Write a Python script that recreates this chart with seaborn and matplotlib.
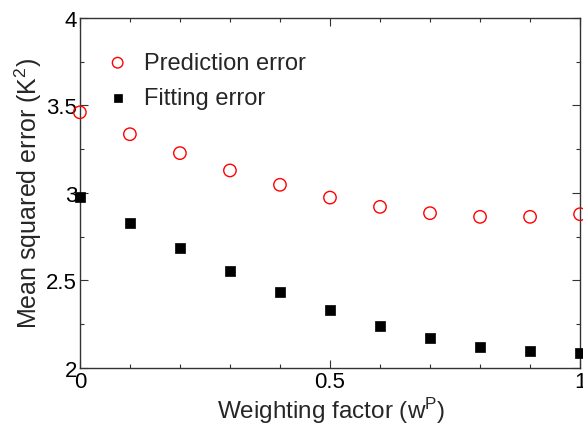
import pandas as pd
import matplotlib
matplotlib.use("Agg")
import matplotlib.pyplot as plt
from matplotlib.ticker import MultipleLocator, FuncFormatter
import seaborn as sns

# Weighting factor values and the two error series
weights = [0.0, 0.1, 0.2, 0.3, 0.4, 0.5, 0.6, 0.7, 0.8, 0.9, 1.0]
prediction_error = [3.46, 3.335, 3.227, 3.128, 3.046, 2.973, 2.92, 2.884, 2.863, 2.863, 2.878]
fitting_error = [2.975, 2.825, 2.684, 2.554, 2.432, 2.33, 2.242, 2.173, 2.12, 2.095, 2.087]

sns.set_theme(style="ticks")
plt.rcParams["font.family"] = ["Liberation Sans", "DejaVu Sans"]
plt.rcParams["mathtext.fontset"] = "custom"
plt.rcParams["mathtext.rm"] = "Liberation Sans"
plt.rcParams["mathtext.it"] = "Liberation Sans"

fig = plt.figure(figsize=(5.83, 4.27), dpi=100)
ax = fig.add_axes([0.137, 0.136, 0.858, 0.82])

pred = pd.DataFrame({"w": weights, "err": prediction_error})
fit = pd.DataFrame({"w": weights, "err": fitting_error})

sns.scatterplot(data=pred, x="w", y="err", ax=ax, marker="o", s=80,
                facecolors="none", edgecolor="#ff0000", linewidth=1.0,
                label="Prediction error", clip_on=False, zorder=3)
sns.scatterplot(data=fit, x="w", y="err", ax=ax, marker="s", s=55,
                color="black", edgecolor="black", linewidth=0.5,
                label="Fitting error", clip_on=False, zorder=3)

ax.set_xlim(0, 1)
ax.set_ylim(2, 4)
ax.xaxis.set_major_locator(MultipleLocator(0.5))
ax.xaxis.set_minor_locator(MultipleLocator(0.1))
ax.yaxis.set_major_locator(MultipleLocator(0.5))
ax.yaxis.set_minor_locator(MultipleLocator(0.25))
ax.xaxis.set_major_formatter(FuncFormatter(lambda v, p: f"{v:g}"))
ax.yaxis.set_major_formatter(FuncFormatter(lambda v, p: f"{v:g}"))

ax.tick_params(which="both", direction="in", top=True, right=True,
               colors="#333333", labelcolor="black", labelsize=16, width=0.8)
ax.tick_params(which="major", length=6, pad=2)
ax.tick_params(which="minor", length=3)
for sp in ax.spines.values():
    sp.set_linewidth(1.0)
    sp.set_color("#333333")

ax.set_xlabel("Weighting factor (w$^{\\mathrm{P}}$)", fontsize=17.5)
ax.set_ylabel("Mean squared error (K$^{\\mathrm{2}}$)", fontsize=18)
ax.xaxis.set_label_coords(0.502, -0.078)
ax.yaxis.set_label_coords(-0.072, 0.5)

ax.legend(loc="upper left", bbox_to_anchor=(0.0, 0.943), frameon=False,
          fontsize=17, handletextpad=0.1, borderaxespad=0.2, labelspacing=0.55,
          markerscale=0.85)

fig.savefig("out.png", dpi=100)
